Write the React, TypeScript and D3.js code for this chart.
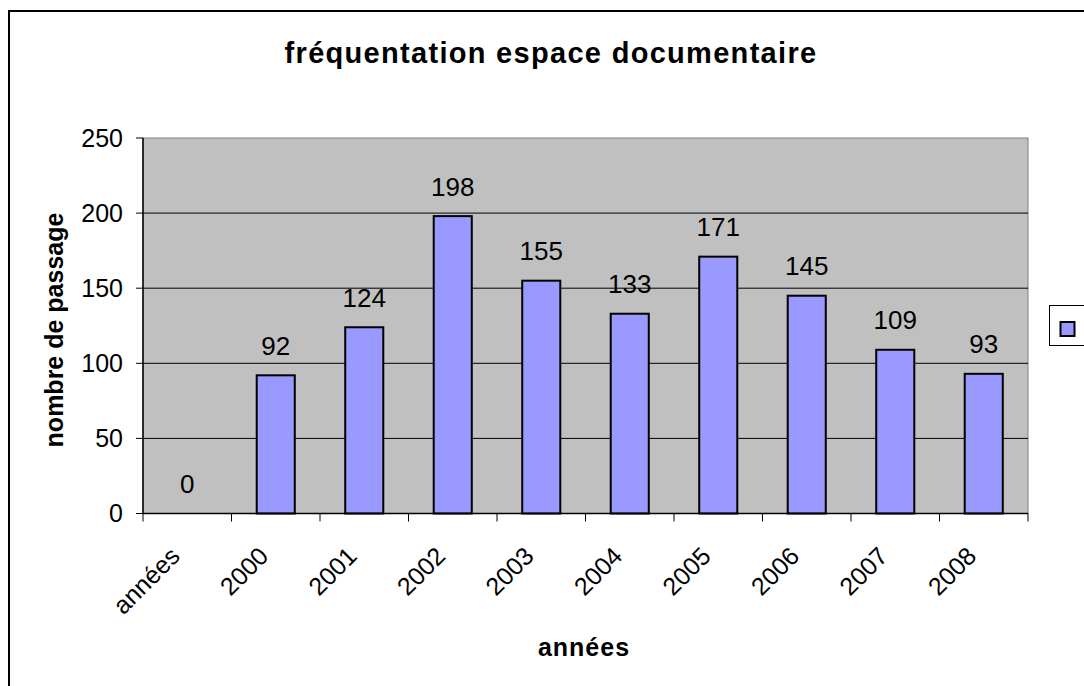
import React from 'react';
import * as d3 from 'd3';

// categories and values
const categories = ['années', '2000', '2001', '2002', '2003', '2004', '2005', '2006', '2007', '2008'];
const passages = [0, 92, 124, 198, 155, 133, 171, 145, 109, 93];
const yTicks = [0, 50, 100, 150, 200, 250];

const W = 1084;
const H = 686;
const plot = { left: 143, top: 138, right: 1028, bottom: 513.5 };
const font = '"Liberation Sans", Arial, sans-serif';

const App = () => {
  const x = d3
    .scaleBand()
    .domain(categories)
    .range([plot.left, plot.right])
    .paddingInner(0.57)
    .paddingOuter(0.285);

  const y = d3.scaleLinear().domain([0, 250]).range([plot.bottom, plot.top]);

  const step = (plot.right - plot.left) / categories.length;
  const tickXs = d3.range(categories.length + 1).map(i => plot.left + i * step);

  return (
    <svg
      width={W}
      height={H}
      style={{ position: 'absolute', left: 0, top: 0, background: '#fff' }}
      fontFamily={font}
    >
      {/* outer chart border, cut by the window on right and bottom */}
      <rect x={9} y={11} width={1200} height={800} fill="#fff" stroke="#000" strokeWidth={2} />

      <text x={551} y={63} textAnchor="middle" fontSize={29} fontWeight="bold" letterSpacing={1.3}>
        fréquentation espace documentaire
      </text>

      {/* plot area */}
      <rect
        x={plot.left}
        y={plot.top}
        width={plot.right - plot.left}
        height={plot.bottom - plot.top}
        fill="#c0c0c0"
        stroke="#808080"
        strokeWidth={1}
      />

      {yTicks.slice(1, -1).map(t => (
        <line key={t} x1={plot.left} x2={plot.right} y1={y(t)} y2={y(t)} stroke="#000" strokeWidth={1} />
      ))}

      {categories.map((c, i) => (
        <rect
          key={c}
          x={x(c)}
          y={y(passages[i])}
          width={x.bandwidth()}
          height={plot.bottom - y(passages[i])}
          fill="#9999ff"
          stroke="#000"
          strokeWidth={passages[i] > 0 ? 2 : 0}
        />
      ))}

      {/* axes */}
      <line x1={plot.left} x2={plot.left} y1={plot.top} y2={plot.bottom} stroke="#000" strokeWidth={1.5} />
      <line x1={plot.left} x2={plot.right} y1={plot.bottom} y2={plot.bottom} stroke="#000" strokeWidth={1.5} />

      {yTicks.map(t => (
        <g key={t}>
          <line x1={plot.left - 7} x2={plot.left} y1={y(t)} y2={y(t)} stroke="#000" strokeWidth={1} />
          <text x={123} y={y(t)} dy="0.35em" textAnchor="end" fontSize={25}>
            {t}
          </text>
        </g>
      ))}

      {tickXs.map((tx, i) => (
        <line key={i} x1={tx} x2={tx} y1={plot.bottom} y2={plot.bottom + 8} stroke="#000" strokeWidth={1} />
      ))}

      {categories.map(c => {
        const cx = (x(c) as number) + x.bandwidth() / 2;
        return (
          <text
            key={c}
            transform={`translate(${cx - 12},${plot.bottom + 38}) rotate(-45)`}
            textAnchor="end"
            fontSize={25}
            dy="0.35em"
          >
            {c}
          </text>
        );
      })}

      {/* data labels */}
      {categories.map((c, i) => (
        <text
          key={c}
          x={(x(c) as number) + x.bandwidth() / 2}
          y={y(passages[i]) - 20.5}
          textAnchor="middle"
          fontSize={26}
        >
          {passages[i]}
        </text>
      ))}

      <text
        transform={`translate(63,330) rotate(-90)`}
        textAnchor="middle"
        fontSize={25}
        fontWeight="bold"
      >
        nombre de passage
      </text>

      <text x={584} y={656} textAnchor="middle" fontSize={25} fontWeight="bold" letterSpacing={1}>
        années
      </text>

      {/* legend, partly off the window */}
      <rect x={1049.5} y={305.5} width={60} height={40} fill="#fff" stroke="#000" strokeWidth={1} />
      <rect x={1060.5} y={322} width={14} height={14} fill="#9999ff" stroke="#000" strokeWidth={2} />
    </svg>
  );
};

export default App;
